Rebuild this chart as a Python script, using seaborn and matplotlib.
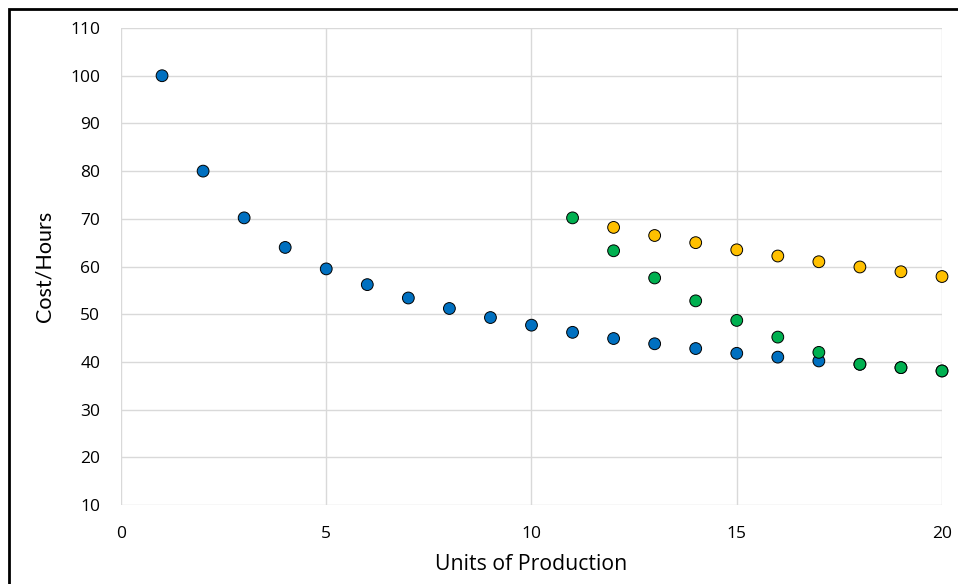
import pandas as pd
import numpy as np
import matplotlib
matplotlib.use("Agg")
import matplotlib.pyplot as plt
import seaborn as sns
from matplotlib.patches import Rectangle

sns.set_style("white")
plt.rcParams['font.family'] = ['Open Sans', 'DejaVu Sans']

# data
units_blue = list(range(1, 21))
cost_blue = [100, 80, 70.2, 64.0, 59.5, 56.2, 53.4, 51.2, 49.3, 47.7,
             46.2, 44.9, 43.8, 42.8, 41.8, 41.0, 40.2, 39.5, 38.8, 38.1]
units_yellow = list(range(12, 21))
cost_yellow = [68.2, 66.5, 65.0, 63.5, 62.2, 61.0, 59.9, 58.9, 57.9]
units_green = list(range(11, 21))
cost_green = [70.2, 63.3, 57.6, 52.8, 48.7, 45.2, 42.0, 39.5, 38.8, 38.1]

df = pd.concat([
    pd.DataFrame({'units': units_blue, 'cost': cost_blue, 'series': 'A'}),
    pd.DataFrame({'units': units_yellow, 'cost': cost_yellow, 'series': 'B'}),
    pd.DataFrame({'units': units_green, 'cost': cost_green, 'series': 'C'}),
], ignore_index = True)

palette = {'A': '#0070C0', 'B': '#FFC000', 'C': '#00B050'}

fig = plt.figure(figsize = (9.58, 5.84), dpi = 100)
ax = fig.add_axes([0.1263, 0.1353, 0.857, 0.8167])

sns.scatterplot(data = df, x = 'units', y = 'cost', hue = 'series', palette = palette,
                s = 72, edgecolor = 'black', linewidth = 0.7, legend = False, ax = ax,
                zorder = 3, clip_on = False)

ax.set_xlim(0, 20)
ax.set_ylim(10, 110)
ax.set_xticks(np.arange(0, 21, 5))
ax.set_yticks(np.arange(10, 111, 10))
ax.grid(True, color = '#D9D9D9', linewidth = 1)
for s in ax.spines.values():
    s.set_visible(False)
ax.tick_params(axis = 'both', length = 0, labelsize = 12.5, labelcolor = 'black')
ax.tick_params(axis = 'x', pad = 15)
ax.tick_params(axis = 'y', pad = 15)

ax.set_xlabel('Units of Production', fontsize = 15.3, labelpad = 9, color = 'black')
ax.set_ylabel('Cost/Hours', fontsize = 15.5, labelpad = 11, color = 'black',
              family = ['Lato', 'DejaVu Sans'])

# chart frame (only top and left edges visible in the reference)
fig.patches.append(Rectangle((9 / 958, -0.1), 1.2, 1 - 9 / 584 + 0.1, transform = fig.transFigure,
                             fill = False, edgecolor = 'black', linewidth = 2, zorder = 10))

fig.savefig('out.png', dpi = 100)
